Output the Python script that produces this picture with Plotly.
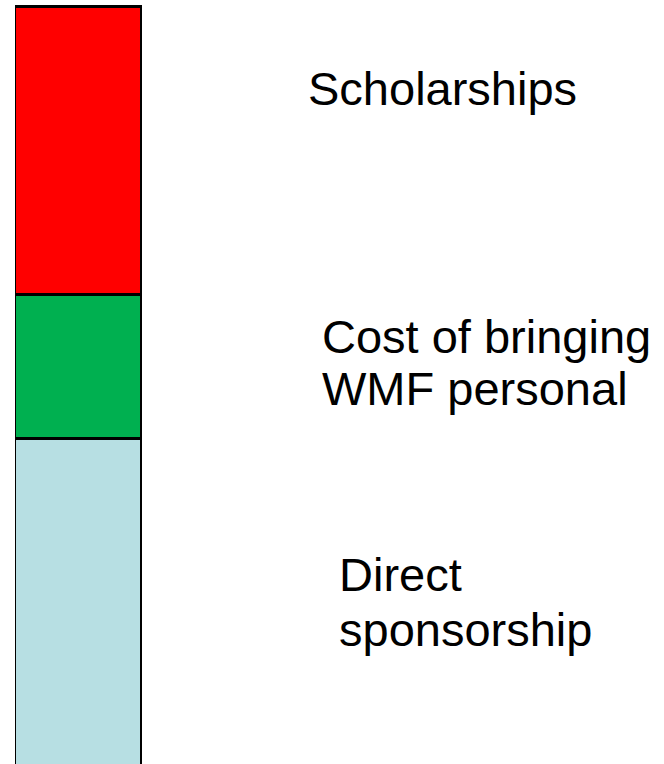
import plotly.graph_objects as go

# stacked segments, bottom to top
segments = ["Direct sponsorship", "Cost of bringing WMF personal", "Scholarships"]
values = [46, 20, 40]
colors = ["#B7DFE3", "#00B050", "#FF0000"]

# label lines shown to the right of the bar (text, left x px, vertical centre px)
label_lines = [
    ("Scholarships", 306, 88),
    ("Cost of bringing", 320, 336),
    ("WMF personal", 320, 388),
    ("Direct", 337, 574),
    ("sponsorship", 337, 629),
]

W, H = 664, 764

fig = go.Figure()
for name, val, col in zip(segments, values, colors):
    fig.add_trace(go.Bar(
        x=["budget"], y=[val],
        name=name,
        marker=dict(color=col, line=dict(color="#000000", width=3)),
        showlegend=False,
        hoverinfo="name+y",
    ))

for txt, px, py in label_lines:
    fig.add_annotation(
        text=txt,
        xref="paper", yref="paper",
        x=px / W, y=1 - py / H,
        xanchor="left", yanchor="middle",
        showarrow=False,
        font=dict(family="Liberation Sans, Arial, sans-serif", size=47, color="#000000"),
    )

# bar base sits just below the bottom of the picture, so the lower edge is cut off
scale = 7.2
fig.update_layout(
    width=W, height=H,
    margin=dict(l=0, r=0, t=0, b=0),
    barmode="stack",
    bargap=0,
    plot_bgcolor="#ffffff",
    paper_bgcolor="#ffffff",
    xaxis=dict(domain=[15 / W, 142 / W], visible=False, fixedrange=True),
    yaxis=dict(range=[6 / scale, 770 / scale], visible=False, fixedrange=True),
)

# drop the browser's default body margin so the figure sits at the page corner
fig.write_html(
    "out.html",
    config={"displayModeBar": False},
    post_script="document.body.style.margin='0px';",
)
